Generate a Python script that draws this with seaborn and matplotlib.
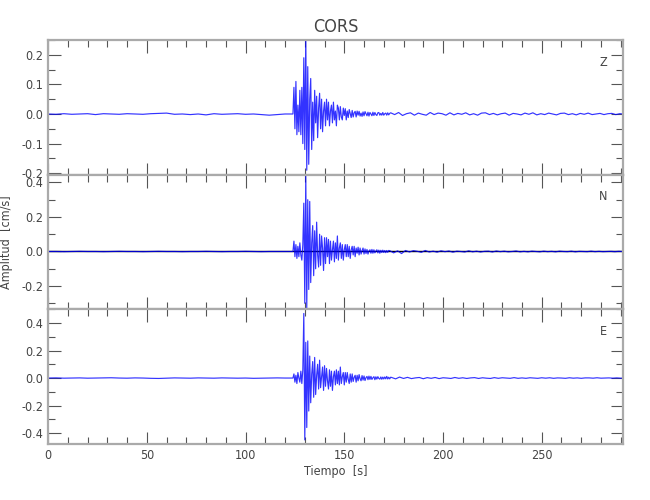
import numpy as np
import pandas as pd
import matplotlib
matplotlib.use('Agg')
import matplotlib.pyplot as plt
from matplotlib.ticker import MultipleLocator, FormatStrFormatter
import seaborn as sns

# sampling grids: quiet pre-event, event window, coda
pre_start, pre_step = 0, 4
ev_start, ev_step = 124, 0.5
coda_step = 2

channels = ['Z', 'N', 'E']

z_pre = [0.0, -0.001, 0.001, -0.001, 0.0, 0.001, -0.002, 0.001, 0.0, -0.001, 0.001, 0.0,
         -0.001, 0.001, 0.002, 0.003, -0.001, 0.0, -0.002, 0.0, -0.003, 0.001, -0.001, 0.0,
         0.001, -0.001, 0.0, -0.002, -0.004, -0.002, 0.0]
z_event = [0.0, 0.09, -0.05, 0.11, -0.07, 0.03, -0.06, 0.08, -0.07, 0.09, -0.10, 0.19,
           -0.12, 0.27, -0.19, 0.16, -0.17, 0.05, 0.12, -0.12, 0.04, -0.09, 0.08, -0.03,
           0.06, -0.08, 0.02, 0.07, -0.05, 0.05, -0.06, 0.01, 0.04, -0.04, 0.05, -0.02,
           0.04, -0.04, 0.01, 0.03, -0.03, 0.04, -0.02, 0.01, -0.04, 0.03, 0.02, -0.02,
           0.025, -0.01, -0.02, 0.02, -0.005, 0.018, -0.02, 0.01, -0.012, 0.015, 0.002, -0.012,
           0.012, -0.01, 0.004, 0.009, -0.01, 0.01, -0.004, 0.009, -0.007, 0.003, -0.008, 0.007,
           -0.006, 0.008, 0.001, -0.006, 0.006, -0.007, 0.005, 0.0, -0.006, 0.006, -0.005, 0.005,
           -0.002, -0.005, 0.004, 0.005, -0.004, 0.002, -0.004, 0.005, -0.004, 0.001, 0.003, -0.004,
           0.004, -0.003, 0.002]
z_coda = [0.004, -0.002, 0.005, -0.005, 0.001, 0.004, -0.004, 0.003, -0.001, -0.004, 0.005, -0.002,
          0.003, 0.001, -0.004, 0.004, -0.003, 0.002, -0.001, 0.004, -0.003, 0.001, -0.004, 0.003,
          0.004, -0.002, 0.002, -0.003, 0.001, 0.003, -0.004, 0.002, 0.0, -0.003, 0.003, -0.001,
          0.004, -0.003, 0.001, -0.002, 0.003, 0.0, -0.003, 0.002, 0.003, -0.002, 0.001, -0.003,
          0.002, -0.001, 0.003, -0.002, 0.0, 0.002, -0.002, 0.001, 0.002, -0.002, 0.001, 0.0]

n_pre = [0.0, 0.0, -0.001, 0.0, 0.001, 0.0, 0.0, -0.001, 0.0, 0.001, 0.0, 0.0,
         -0.001, 0.0, 0.001, 0.0, 0.0, -0.001, 0.0, 0.0, 0.001, 0.0, -0.001, 0.0,
         0.0, 0.001, 0.0, -0.001, 0.0, 0.0, 0.0]
n_event = [0.0, 0.06, -0.03, 0.04, -0.04, 0.03, -0.03, 0.05, -0.02, -0.05, 0.04, 0.28,
           -0.30, 0.45, -0.33, 0.30, -0.22, 0.29, -0.18, 0.05, 0.15, -0.14, 0.12, -0.10,
           0.17, -0.02, -0.09, 0.10, -0.08, 0.09, 0.02, -0.11, 0.08, -0.07, 0.08, -0.03,
           0.07, -0.07, 0.06, -0.05, 0.01, 0.06, -0.06, 0.05, -0.04, 0.09, -0.05, 0.02,
           0.05, -0.04, 0.04, -0.05, 0.01, 0.04, -0.03, 0.04, -0.03, 0.03, -0.04, 0.01,
           0.03, -0.02, 0.03, -0.03, 0.02, -0.01, 0.025, -0.02, 0.02, -0.015, 0.005, 0.02,
           -0.015, 0.015, -0.012, 0.012, -0.015, 0.003, 0.01, -0.01, 0.012, -0.01, 0.01, -0.008,
           0.002, 0.01, -0.008, 0.008, -0.01, 0.007, -0.006, 0.008, -0.006, 0.006, -0.007, 0.006,
           -0.005, 0.006]
n_coda = [0.005, -0.008, 0.004, -0.012, 0.006, -0.003, 0.005, 0.001, -0.005, 0.006, -0.003, 0.002,
          -0.004, 0.004, -0.001, 0.003, -0.004, 0.002, 0.0, -0.003, 0.004, -0.002, 0.002, -0.003,
          0.001, 0.002, -0.003, 0.003, -0.001, 0.002, -0.002, 0.0, 0.003, -0.002, 0.001, -0.002,
          0.002, 0.0, -0.002, 0.002, -0.001, 0.001, -0.002, 0.002, 0.0, -0.001, 0.002, -0.002,
          0.001, 0.0, -0.001, 0.002, -0.001, 0.001, -0.001, 0.0, 0.001, -0.001, 0.001, 0.0]

e_pre = [0.0, 0.001, -0.001, 0.0, 0.001, -0.001, 0.0, 0.001, 0.002, 0.0, -0.001, 0.001,
         0.0, -0.002, -0.003, -0.001, 0.001, 0.0, -0.001, 0.001, 0.0, -0.001, 0.001, 0.0,
         -0.001, 0.0, -0.002, -0.001, 0.0, 0.001, 0.0]
e_event = [0.0, 0.03, -0.03, 0.02, -0.04, 0.04, 0.0, -0.03, 0.05, -0.04, 0.06, 0.47,
           -0.45, 0.26, -0.36, 0.27, -0.24, 0.16, -0.18, 0.03, 0.12, -0.14, 0.15, -0.12,
           0.02, 0.10, -0.08, 0.13, -0.07, 0.01, 0.08, -0.09, 0.09, -0.06, 0.07, -0.02,
           -0.08, 0.06, -0.06, 0.05, -0.09, 0.01, 0.05, -0.05, 0.06, -0.04, 0.05, -0.05,
           0.08, -0.04, 0.01, 0.04, -0.05, 0.04, -0.03, 0.04, -0.01, -0.04, 0.03, -0.03,
           0.03, -0.025, 0.005, 0.02, -0.03, 0.02, -0.02, 0.025, -0.005, -0.02, 0.018, -0.015,
           0.015, -0.018, 0.003, 0.012, -0.012, 0.014, -0.01, 0.012, -0.01, 0.002, 0.01, -0.012,
           0.009, -0.008, 0.01, -0.003, -0.008, 0.008, -0.009, 0.007, -0.007, 0.008, -0.006, 0.012,
           -0.007, 0.006, -0.006, 0.006]
e_coda = [0.004, -0.006, 0.007, -0.003, 0.005, -0.004, 0.001, 0.004, -0.005, 0.003, -0.002, 0.004,
          -0.004, 0.002, 0.0, -0.003, 0.004, -0.002, 0.002, -0.003, 0.001, 0.003, -0.003, 0.002,
          -0.001, -0.003, 0.003, -0.002, 0.002, 0.0, -0.002, 0.003, -0.002, 0.001, -0.002, 0.002,
          0.0, -0.002, 0.002, -0.001, 0.002, -0.002, 0.001, 0.0, -0.002, 0.002, -0.001, 0.001,
          -0.002, 0.001, 0.001, -0.001, 0.002, -0.001, 0.0, 0.001, -0.001, 0.001, -0.001, 0.0]

traces = {'Z': (z_pre, z_event, z_coda),
          'N': (n_pre, n_event, n_coda),
          'E': (e_pre, e_event, e_coda)}

ylims = {'Z': (-0.205, 0.25), 'N': (-0.335, 0.445), 'E': (-0.48, 0.50)}
ymajor = {'Z': 0.1, 'N': 0.2, 'E': 0.2}
yminor = {'Z': 0.05, 'N': 0.1, 'E': 0.1}


def build(pre, ev, coda):
    coda_start = ev_start + ev_step * len(ev)
    t = np.concatenate([pre_start + pre_step * np.arange(len(pre)),
                        ev_start + ev_step * np.arange(len(ev)),
                        coda_start + coda_step * np.arange(len(coda))])
    v = np.concatenate([pre, ev, coda])
    return pd.DataFrame({'t': t, 'v': v})


sns.set_style('ticks')
plt.rcParams['font.family'] = ['DejaVu Sans']
plt.rcParams['font.stretch'] = 'condensed'

fig, axes = plt.subplots(3, 1, figsize=(6.5, 5), dpi=100, sharex=True)
fig.subplots_adjust(left=0.074, right=0.958, top=0.92, bottom=0.112, hspace=0)

for ax, ch in zip(axes, channels):
    df = build(*traces[ch])
    if ch == 'N':
        ax.axhline(0, color='black', lw=1.0, zorder=1)
    sns.lineplot(data=df, x='t', y='v', ax=ax, color='blue', lw=0.85, alpha=0.8,
                 estimator=None, sort=False, zorder=2)
    ax.set_xlim(0, 291)
    ax.set_ylim(*ylims[ch])
    ax.xaxis.set_major_locator(MultipleLocator(50))
    ax.xaxis.set_minor_locator(MultipleLocator(10))
    ax.yaxis.set_major_locator(MultipleLocator(ymajor[ch]))
    ax.yaxis.set_minor_locator(MultipleLocator(yminor[ch]))
    ax.yaxis.set_major_formatter(FormatStrFormatter('%.1f'))
    ax.tick_params(which='both', direction='in', top=True, right=True,
                   color='#555555', labelcolor='#444444', labelsize=9, width=0.8)
    ax.tick_params(which='major', length=9)
    ax.tick_params(which='minor', length=5)
    for s in ax.spines.values():
        s.set_color('#aaaaaa')
        s.set_linewidth(1.6)
    ax.set_xlabel('')
    ax.set_ylabel('')
    ax.text(0.966, 0.835, ch, transform=ax.transAxes, fontsize=9, color='#444444',
            ha='center', va='center')

axes[0].set_title('CORS', fontsize=13, color='#444444', pad=6)
axes[1].set_ylabel('Amplitud  [cm/s]', fontsize=9, color='#444444', labelpad=6)
axes[2].set_xlabel('Tiempo  [s]', fontsize=9, color='#444444', labelpad=2)

fig.savefig('out.png', dpi=100, facecolor='white')
